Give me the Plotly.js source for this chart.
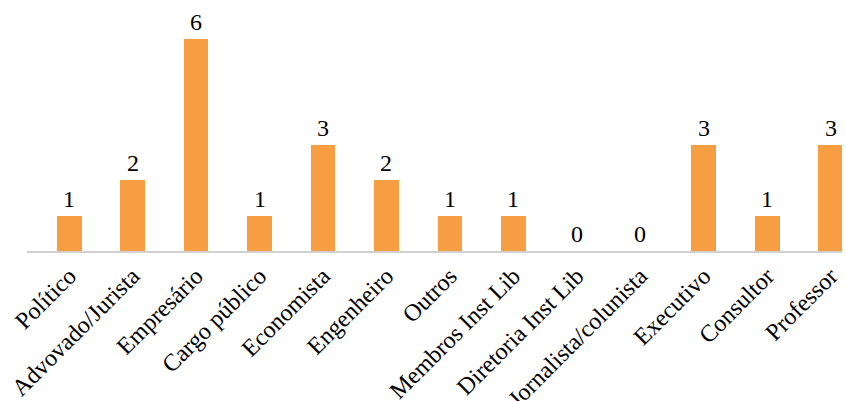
<!DOCTYPE html>
<html>
<head>
<meta charset="utf-8">
<script src="https://cdn.plot.ly/plotly-3.0.1.min.js"></script>
<style>
  html, body { margin: 0; padding: 0; background: #fff; }
  #chart { width: 846px; height: 401px; }
</style>
</head>
<body>
<div id="chart"></div>
<script>
// Professions and the number of members in each
const categories = [
  "Político", "Advovado/Jurista", "Empresário", "Cargo público", "Economista",
  "Engenheiro", "Outros", "Membros Inst Lib", "Diretoria Inst Lib",
  "Jornalista/colunista", "Executivo", "Consultor", "Professor"
];
const counts = [1, 2, 6, 1, 3, 2, 1, 1, 0, 0, 3, 1, 3];

const serif = "'Liberation Serif', 'Times New Roman', serif";

const trace = {
  type: "bar",
  x: categories,
  y: counts,
  width: 0.39,
  marker: { color: "#F79E42" },
  hoverinfo: "x+y"
};

// value labels sitting a little above each bar
const valueLabels = categories.map((c, i) => ({
  x: c,
  y: counts[i],
  text: String(counts[i]),
  showarrow: false,
  xanchor: "center",
  yanchor: "bottom",
  yshift: 2,
  font: { family: serif, size: 24, color: "#000" }
}));

const layout = {
  width: 846,
  height: 401,
  margin: { l: 27, r: 4, t: 20, b: 150 },
  paper_bgcolor: "#fff",
  plot_bgcolor: "#fff",
  showlegend: false,
  bargap: 0,
  annotations: valueLabels,
  xaxis: {
    range: [-0.665, 12.18],
    tickangle: -45,
    tickfont: { family: serif, size: 24, color: "#000" },
    showline: true,
    linecolor: "#D0D0D0",
    linewidth: 1.5,
    ticks: "",
    showgrid: false,
    zeroline: false,
    automargin: false
  },
  yaxis: {
    range: [0, 6.54],
    visible: false,
    showgrid: false,
    zeroline: false
  }
};

Plotly.newPlot("chart", [trace], layout, { displayModeBar: false, staticPlot: true });
</script>
</body>
</html>
